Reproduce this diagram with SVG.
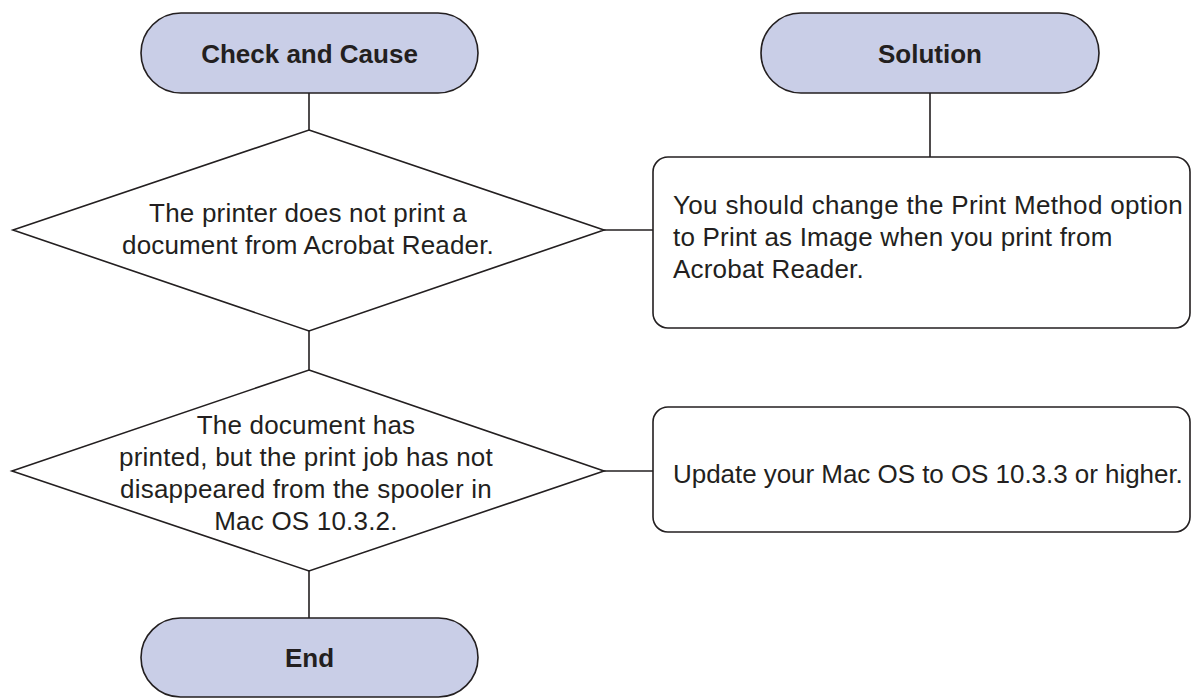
<svg xmlns="http://www.w3.org/2000/svg" width="1192" height="699" viewBox="0 0 1192 699">
<style>
.term{fill:#c9cee7;stroke:#231f20;stroke-width:1.6}
.shape{fill:#ffffff;stroke:#231f20;stroke-width:1.6}
.conn{stroke:#231f20;stroke-width:1.6;fill:none}
.title{font-family:"Liberation Sans",Arial,sans-serif;font-weight:bold;font-size:26px;fill:#231f20;text-anchor:middle}
.body{font-family:"Liberation Sans",Arial,sans-serif;font-size:26px;fill:#231f20;letter-spacing:0.2px}
.mid{text-anchor:middle}
</style>
<rect width="1192" height="699" fill="#ffffff"/>
<g id="connectors">
<line class="conn" x1="309" y1="93" x2="309" y2="130"/>
<line class="conn" x1="309" y1="331" x2="309" y2="370"/>
<line class="conn" x1="309" y1="571" x2="309" y2="618"/>
<line class="conn" x1="930" y1="93" x2="930" y2="157"/>
<line class="conn" x1="604" y1="230" x2="653" y2="230"/>
<line class="conn" x1="604" y1="471" x2="653" y2="471"/>
</g>
<g id="check-and-cause">
<rect class="term" x="141" y="13" width="337" height="80" rx="40" ry="40"/>
<text class="title" x="309.5" y="63">Check and Cause</text>
</g>
<g id="solution">
<rect class="term" x="761" y="13" width="338" height="80" rx="40" ry="40"/>
<text class="title" x="930" y="63">Solution</text>
</g>
<g id="decision-1">
<polygon class="shape" points="309,130 604,230 309,331 13,230"/>
<text class="body mid" x="308" y="222">The printer does not print a</text>
<text class="body mid" x="308" y="254" textLength="372" lengthAdjust="spacing">document from Acrobat Reader.</text>
</g>
<g id="solution-1">
<rect class="shape" x="653" y="157" width="537" height="171" rx="15" ry="15"/>
<text class="body" x="673" y="214" textLength="510" lengthAdjust="spacing">You should change the Print Method option</text>
<text class="body" x="673" y="246">to Print as Image when you print from</text>
<text class="body" x="673" y="278">Acrobat Reader.</text>
</g>
<g id="decision-2">
<polygon class="shape" points="309,370 604,471 309,571 12,471"/>
<text class="body mid" x="306" y="434">The document has</text>
<text class="body mid" x="306" y="466" textLength="374" lengthAdjust="spacing">printed, but the print job has not</text>
<text class="body mid" x="306" y="498">disappeared from the spooler in</text>
<text class="body mid" x="306" y="530">Mac OS 10.3.2.</text>
</g>
<g id="solution-2">
<rect class="shape" x="653" y="407" width="537" height="125" rx="15" ry="15"/>
<text class="body" x="673" y="483" textLength="510" lengthAdjust="spacing">Update your Mac OS to OS 10.3.3 or higher.</text>
</g>
<g id="end">
<rect class="term" x="141" y="618" width="337" height="79" rx="39.5" ry="39.5"/>
<text class="title" x="309.5" y="667">End</text>
</g>
</svg>
